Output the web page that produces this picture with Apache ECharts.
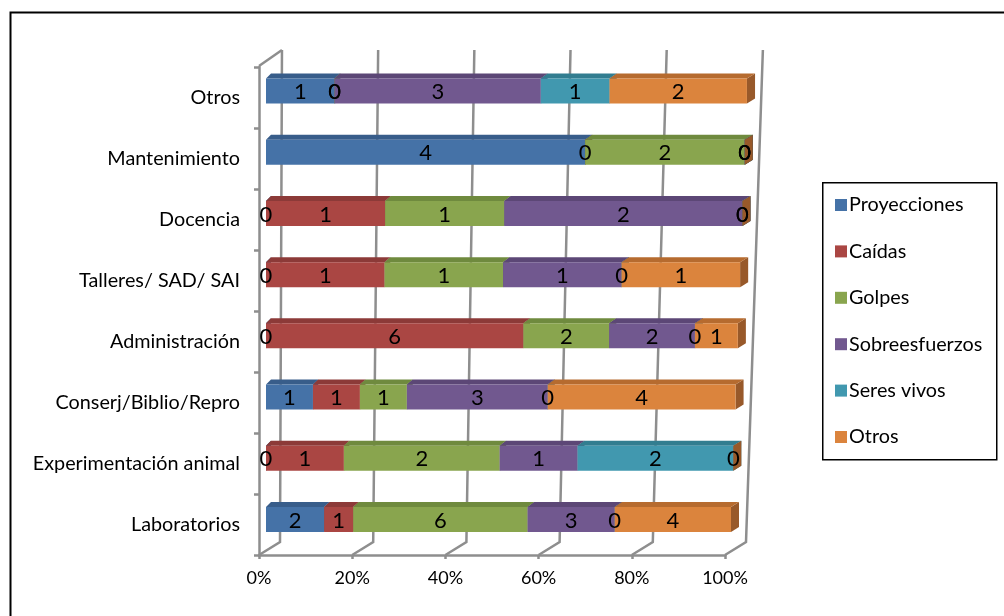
<!DOCTYPE html>
<html>
<head>
<meta charset="utf-8">
<script src="https://cdn.jsdelivr.net/npm/echarts@6/dist/echarts.min.js"></script>
<style>
  html, body { margin: 0; background: #fff; }
  #main { width: 1004px; height: 616px; }
</style>
</head>
<body>
<div id="main"></div>
<script>
// categorias (de abajo hacia arriba, como en el eje)
const categories = ['Laboratorios', 'Experimentación animal', 'Conserj/Biblio/Repro', 'Administración',
  'Talleres/ SAD/ SAI', 'Docencia', 'Mantenimiento', 'Otros'];
const seriesNames = ['Proyecciones', 'Caídas', 'Golpes', 'Sobreesfuerzos', 'Seres vivos', 'Otros'];

const proyecciones   = [2, 0, 1, 0, 0, 0, 4, 1];
const caidas         = [1, 1, 1, 6, 1, 1, 0, 0];
const golpes         = [6, 2, 1, 2, 1, 1, 2, 0];
const sobreesfuerzos = [3, 1, 3, 2, 1, 2, 0, 3];
const seresVivos     = [0, 2, 0, 0, 0, 0, 0, 1];
const otros          = [4, 0, 4, 1, 1, 0, 0, 2];

const xTicks = [0, 20, 40, 60, 80, 100];

const faceColors = ['#4572A7', '#AA4643', '#89A54E', '#71588F', '#4198AF', '#DB843D'];
const topColors  = ['#385D8A', '#8C3A38', '#6F8A3E', '#5C4776', '#327D90', '#B66B2F'];
const sideColors = ['#2F4F75', '#773130', '#5D7434', '#4D3B63', '#2A6979', '#98592A'];

const FONT = 'Lato';
const GRID_COLOR = '#8e8e8e';

const allValues = [proyecciones, caidas, golpes, sobreesfuerzos, seresVivos, otros];
const totals = categories.map((c, i) => allValues.reduce((a, arr) => a + arr[i], 0));

// datos apilados al 100%: [categoria, inicio %, fin %, valor]
const stacked = allValues.map((arr, s) => arr.map((v, i) => {
  let before = 0;
  for (let k = 0; k < s; k++) before += allValues[k][i];
  return [i, before / totals[i] * 100, (before + v) / totals[i] * 100, v];
}));

const chart = echarts.init(document.getElementById('main'));

// perspectiva leve: las barras de arriba son algo mas anchas
const SKEW = 0.00008;

function barGeom(params, api) {
  const c = api.value(0);
  const p0 = api.coord([api.value(1), c]);
  const p1 = api.coord([api.value(2), c]);
  const refY = api.coord([0, 0])[1];
  const left = params.coordSys.x;
  const k = 1 + (refY - p0[1]) * SKEW;
  return {
    left: left, w: params.coordSys.width, yc: p0[1],
    x0: left + (p0[0] - left) * k,
    x1: left + (p1[0] - left) * k
  };
}

function renderBar(s) {
  return function (params, api) {
    const g = barGeom(params, api);
    const x0 = g.x0, x1 = g.x1;
    const h = 25, dy = 5;
    const d0 = 5 + 3 * (x0 - g.left) / g.w;
    const d1 = 5 + 3 * (x1 - g.left) / g.w;
    const top = g.yc - h / 2, bot = g.yc + h / 2;
    return {
      type: 'group',
      children: [
        { type: 'polygon', shape: { points: [[x1, top], [x1 + d1, top - dy], [x1 + d1, bot - dy], [x1, bot]] },
          style: { fill: sideColors[s] } },
        { type: 'polygon', shape: { points: [[x0, top], [x0 + d0, top - dy], [x1 + d1, top - dy], [x1, top]] },
          style: { fill: topColors[s] } },
        { type: 'rect', shape: { x: x0, y: top, width: x1 - x0, height: h },
          style: { fill: faceColors[s] } }
      ]
    };
  };
}

function renderLabel(params, api) {
  const g = barGeom(params, api);
  return { type: 'text', style: { text: String(api.value(3)), x: (g.x0 + g.x1) / 2, y: g.yc + 1,
    align: 'center', verticalAlign: 'middle', fill: '#000', font: '22px ' + FONT } };
}

function renderWall(params, api) {
  const cs = params.coordSys;
  const xf = api.coord([api.value(0), 0])[0];
  const yb = cs.y + cs.height;
  const backLeft = cs.x + 22;
  const xb = xf + 21;
  const xt = backLeft + (xb - backLeft) * 1.032 + 2;
  const children = [
    { type: 'polyline', shape: { points: [[xf, yb], [xb, yb - 13], [xt, 50]] },
      style: { stroke: GRID_COLOR, lineWidth: 2.5, fill: null } }
  ];
  if (api.value(0) === 0) {
    children.push({ type: 'line', shape: { x1: cs.x, y1: cs.y - 1, x2: xt, y2: 50 },
      style: { stroke: GRID_COLOR, lineWidth: 2.5 } });
  }
  return { type: 'group', children: children };
}

const barSeries = seriesNames.map((name, s) => ({
  name: name,
  type: 'custom',
  xAxisIndex: 0,
  yAxisIndex: 0,
  clip: false,
  z: 3,
  itemStyle: { color: faceColors[s] },
  encode: { x: [1, 2], y: 0 },
  data: stacked[s],
  renderItem: renderBar(s)
}));

const labelSeries = {
  type: 'custom',
  xAxisIndex: 0,
  yAxisIndex: 0,
  clip: false,
  silent: true,
  z: 5,
  encode: { x: [1, 2], y: 0 },
  data: [].concat.apply([], stacked),
  renderItem: renderLabel
};

chart.setOption({
  animation: false,
  textStyle: { fontFamily: FONT },
  grid: [
    { left: 266, right: 273, top: 60.4, bottom: 65.9 },
    { left: 259, right: 279, top: 67, bottom: 61 }
  ],
  xAxis: [
    { gridIndex: 0, type: 'value', min: 0, max: 100, interval: 20, show: false },
    { gridIndex: 1, type: 'value', min: 0, max: 100, interval: 20,
      axisLine: { show: true, lineStyle: { color: GRID_COLOR, width: 2.5 } },
      axisTick: { show: true, length: 4, lineStyle: { color: GRID_COLOR, width: 2.5 } },
      splitLine: { show: false },
      axisLabel: { formatter: '{value}%', color: '#000', fontSize: 18, fontFamily: FONT, margin: 14 } }
  ],
  yAxis: [
    { gridIndex: 0, type: 'category', data: categories, show: false },
    { gridIndex: 1, type: 'category', data: categories,
      axisLine: { show: true, lineStyle: { color: GRID_COLOR, width: 2.5 } },
      axisTick: { show: true, length: 5, lineStyle: { color: GRID_COLOR, width: 2.5 } },
      axisLabel: { color: '#000', fontSize: 19.8, fontFamily: FONT, margin: 19 } }
  ],
  legend: {
    data: seriesNames,
    orient: 'vertical',
    left: 835,
    top: 195,
    padding: 0,
    itemWidth: 12,
    itemHeight: 12,
    itemGap: 26.4,
    icon: 'rect',
    textStyle: { color: '#000', fontSize: 19.8, fontFamily: FONT, padding: [0, 0, 0, -3] }
  },
  graphic: [
    { type: 'rect', left: 8, top: 10, shape: { width: 1100, height: 700 },
      style: { fill: null, stroke: '#000', lineWidth: 2 }, silent: true },
    { type: 'rect', left: 822, top: 182, shape: { width: 174, height: 277 },
      style: { fill: '#fff', stroke: '#000', lineWidth: 1.5 }, silent: true, z: -1 }
  ],
  series: [
    {
      type: 'custom',
      xAxisIndex: 1,
      yAxisIndex: 1,
      clip: false,
      z: 1,
      silent: true,
      data: xTicks.map(v => [v, 0]),
      encode: { x: 0, y: 1 },
      renderItem: renderWall
    }
  ].concat(barSeries, [labelSeries])
});
</script>
</body>
</html>
